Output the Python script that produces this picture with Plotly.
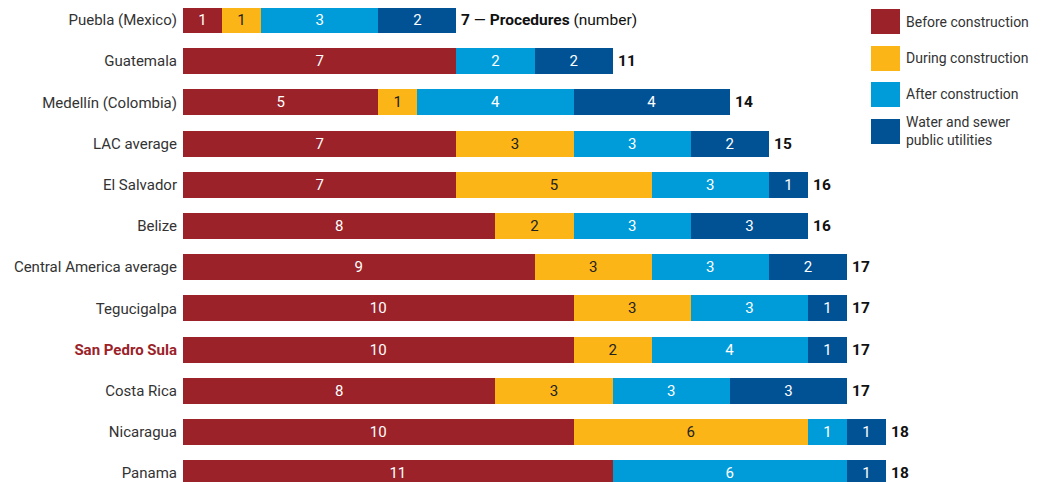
import plotly.graph_objects as go

categories = ["Puebla (Mexico)", "Guatemala", "Medellín (Colombia)", "LAC average",
              "El Salvador", "Belize", "Central America average", "Tegucigalpa",
              "San Pedro Sula", "Costa Rica", "Nicaragua", "Panama"]
before = [1, 7, 5, 7, 7, 8, 9, 10, 10, 8, 10, 11]
during = [1, 0, 1, 3, 5, 2, 3, 3, 2, 3, 6, 0]
after = [3, 2, 4, 3, 3, 3, 3, 3, 4, 3, 1, 6]
utilities = [2, 2, 4, 2, 1, 3, 2, 1, 1, 3, 1, 1]
totals = [7, 11, 14, 15, 16, 16, 17, 17, 17, 17, 18, 18]
series_names = ["Before construction", "During construction", "After construction",
                "Water and sewer<br>public utilities"]
colors = ["#9B2229", "#FBB516", "#009CDA", "#005295"]
text_colors = ["white", "#222222", "white", "white"]

FONT = "Roboto"
OFF = 8  # page body margin
W, H = 1042 - OFF, 482 - OFF
L = 183 - OFF
ROW = 41.2
Y0 = 20 - OFF  # centre of first row (figure px)
UNIT = 39.06

fig = go.Figure()
for vals, name, col, tc in zip([before, during, after, utilities], series_names, colors, text_colors):
    fig.add_trace(go.Bar(
        y=categories, x=vals, orientation="h", name=name,
        marker=dict(color=col, line=dict(width=0)),
        text=[str(v) if v else "" for v in vals],
        textposition="inside", insidetextanchor="middle",
        textfont=dict(color=tc, size=15, family=FONT),
        textangle=0, showlegend=False, hoverinfo="skip"))

ticktext = []
for c in categories:
    if c == "San Pedro Sula":
        ticktext.append('<b><span style="color:#9B2229">San Pedro Sula</span></b>')
    else:
        ticktext.append(c)

annotations = []
for c, t in zip(categories, totals):
    txt = f"<b>{t}</b>"
    if c == categories[0]:
        txt = f"<b>{t}</b> — <b>Procedures</b> (number)"
    annotations.append(dict(x=t, y=c, xref="x", yref="y", text=txt, showarrow=False,
                            xanchor="left", xshift=3, font=dict(size=15.5, color="#111111", family=FONT)))

# custom legend
shapes = []
plot_w = W - L
def px2x(px):
    return (px - OFF - L) / plot_w
def py2y(py):
    return 1 - (py - OFF) / H
leg_tops = [9, 46, 82, 119]
for i, (name, col) in enumerate(zip(series_names, colors)):
    top = leg_tops[i]
    shapes.append(dict(type="rect", xref="paper", yref="paper",
                       x0=px2x(871), x1=px2x(900), y0=py2y(top + 25), y1=py2y(top),
                       fillcolor=col, line=dict(width=0)))
    annotations.append(dict(x=px2x(904), y=py2y(top + 12.5 if i < 3 else top + 12), xref="paper", yref="paper",
                            text=name, showarrow=False, xanchor="left", yanchor="middle",
                            align="left", font=dict(size=14, color="#333333", family=FONT)))

fig.update_layout(
    width=W, height=H, barmode="stack", bargap=0.37,
    margin=dict(l=L, r=0, t=0, b=0, autoexpand=False),
    plot_bgcolor="white", paper_bgcolor="white",
    font=dict(family=FONT, size=15, color="#333333"),
    xaxis=dict(range=[0, plot_w / UNIT], visible=False, showgrid=False, zeroline=False),
    yaxis=dict(type="category", categoryorder="array", categoryarray=categories,
               range=[(H - Y0) / ROW, -Y0 / ROW], tickmode="array", tickvals=categories,
               ticktext=ticktext, showgrid=False, zeroline=False, showline=False,
               ticks="", ticklabelstandoff=5, tickfont=dict(size=15, color="#333333", family=FONT)),
    annotations=annotations, shapes=shapes, uniformtext=dict(minsize=8, mode="show"),
)
fig.write_html("out.html")
